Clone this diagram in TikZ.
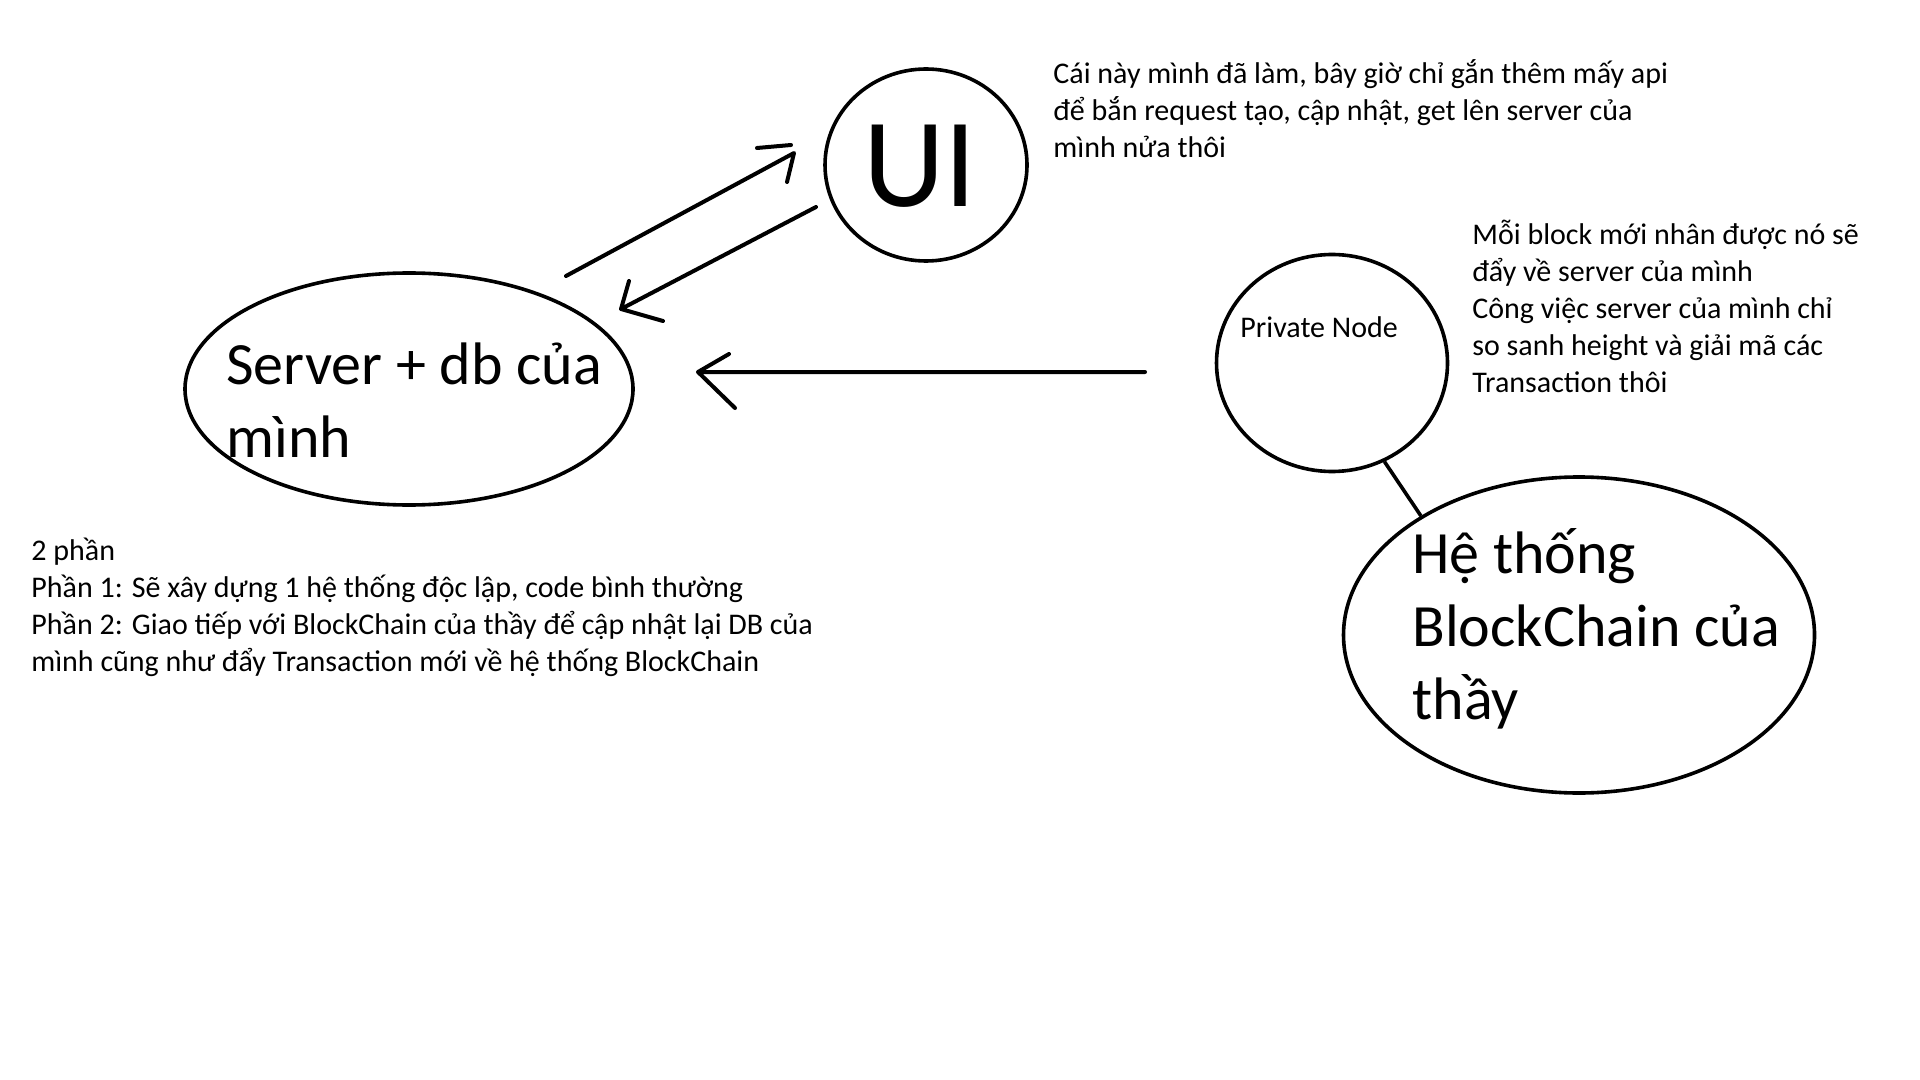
\documentclass[tikz,border=0pt]{standalone}
\usepackage{fontspec}
\setmainfont{Carlito}
\usetikzlibrary{shapes.geometric}
\tikzset{
  bubble/.style={draw, ellipse, inner sep=0pt, line width=1.8pt},
  note/.style={anchor=base west, inner sep=0pt, align=left, font=\fontsize{15}{18.5}\selectfont},
  bignote/.style={anchor=base west, inner sep=0pt, align=left, font=\fontsize{30}{36.3}\selectfont},
  pen/.style={line width=2pt, line cap=round, line join=round},
}
\begin{document}
\begin{tikzpicture}[x=0.5pt,y=0.5pt,yscale=-1,xscale=1]
\useasboundingbox (0,0) rectangle (1920,1080);
% bubbles
\node[bubble, minimum width=101pt, minimum height=96pt] (ui) at (926,165) {};
\node[bubble, minimum width=224pt, minimum height=116pt] (server) at (409,389) {};
\node[bubble, minimum width=115.5pt, minimum height=108.5pt] (pnode) at (1332,363) {};
\node[bubble, minimum width=235.5pt, minimum height=158pt] (chain) at (1579,635) {};
\draw[line width=1.8pt] (pnode.-62) -- (chain.143.7);
% labels inside (base = last line)
\node[anchor=base west, inner sep=0pt, font=\fontsize{63.5}{70}\selectfont] (uilabel) at (863,207) {UI};
\node[bignote] (serverlabel) at (226,457) {Server + db của\\mình};
\node[note] (pnodelabel) at (1240,338) {Private Node};
\node[bignote] (chainlabel) at (1412,719) {Hệ thống\\BlockChain của\\thầy};
% hand drawn arrows
\coordinate (up1) at (566,276);
\coordinate (up2) at (794,153);
\draw[pen] (up1) -- (up2) -- (787,182);
\draw[pen] (757,148) -- (791,145);
\coordinate (dn1) at (816,207);
\coordinate (dn2) at (621,309);
\draw[pen] (dn1) -- (dn2) (629,281) -- (dn2) -- (663,321);
\coordinate (pn1) at (1145,372);
\coordinate (pn2) at (698,372);
\draw[pen] (pn1) -- (pn2) (729,354) -- (pn2) -- (735,408);
% notes
\node[note] (uinote) at (1053,158) {Cái này mình đã làm, bây giờ chỉ gắn thêm mấy api\\để bắn request tạo, cập nhật, get lên server của\\mình nửa thôi};
\node[note] (pnodenote) at (1472,393) {Mỗi block mới nhân được nó sẽ\\đẩy về server của mình\\Công việc server của mình chỉ\\so sanh height và giải mã các\\Transaction thôi};
\node[note] (partsnote) at (31,671) {2 phần\\Phần 1: Sẽ xây dựng 1 hệ thống độc lập, code bình thường\\Phần 2: Giao tiếp với BlockChain của thầy để cập nhật lại DB của\\mình cũng như đẩy Transaction mới về hệ thống BlockChain};
\end{tikzpicture}
\end{document}
